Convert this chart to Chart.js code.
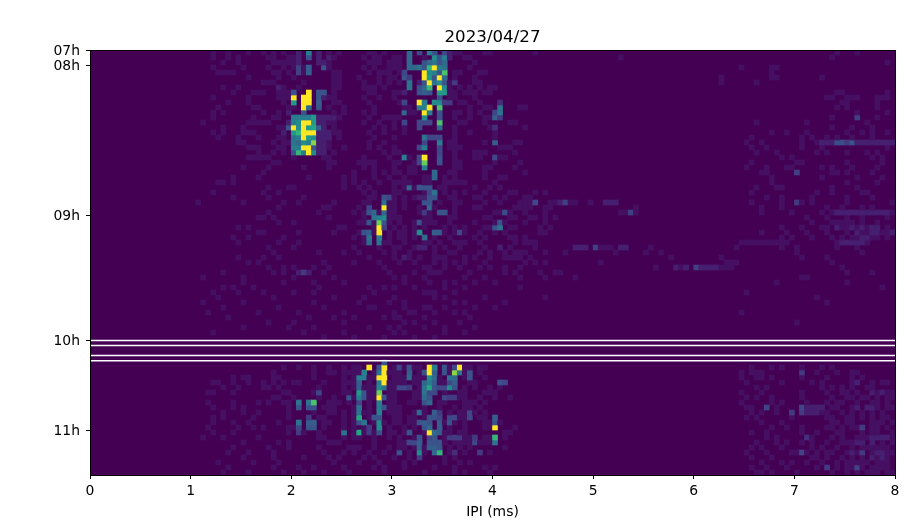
<!DOCTYPE html>
<html><head><meta charset="utf-8">
<style>html,body{margin:0;padding:0;background:#fff}canvas{display:block}</style>
<script src="https://cdn.jsdelivr.net/npm/chart.js@4"></script>
</head><body><canvas id="c" width="905" height="525"></canvas>
<script>
const chartTitle = '2023/04/27';
const xLabel = 'IPI (ms)';
const binCount = 160;
const rowCount = 85;
const xTicks = [0,1,2,3,4,5,6,7,8];
const hourRows = [0,3,33,58,76];
const hourLabels = ['07h','08h','09h','10h','11h'];
const gapRows = [58.1,59.1,61.1,62.15];

// [row, [columns]] : faint background counts
const faintRows = [
[0,[24,27,31,34,36,38,47,49,55,56,58,72,73,78,79,88,148,152]],
[1,[24,27,29,35,36,39,40,48,54,56,57,60,61,66,71,74,75,105,147]],
[2,[26,29,36,37,38,39,40,41,47,55,56,57,59,60,61,67,76,158]],
[3,[24,30,35,38,40,42,47,54,56,59,60,61,75,129,135,136]],
[4,[25,26,27,28,36,37,39,42,48,49,55,57,58,59,61,72,73,77,78,135]],
[5,[31,37,40,48,49,53,57,59,60,72,76,125,135,136,145]],
[6,[34,35,36,42,48,49,54,57,59,61,71,76,77,125,132]],
[7,[26,29,38,41,48,49,54,55,56,58,71,73,75,77,79,80]],
[8,[28,32,33,34,37,38,39,48,55,56,60,61,71,72,74,75,76,78,79,148,149,158]],
[9,[24,31,37,38,39,47,48,54,57,60,71,72,76,146,147,150,151,152,156,157,158]],
[10,[27,31,38,48,49,55,61,73,74,77,149,150,156]],
[11,[25,32,33,39,40,47,50,56,62,63,75,78,79,85,86,148,150,156]],
[12,[24,26,34,37,48,50,54,56,63,64,72,73,75,77,152,158]],
[13,[24,32,36,37,46,47,48,49,55,58,59,60,61,72,75,78,79,147,152,156]],
[14,[22,31,32,33,34,35,47,48,54,57,60,73,74,78,83,84,132,142,154]],
[15,[26,30,37,38,46,48,56,58,60,62,72,79,86,147,151,155]],
[16,[24,26,30,31,32,47,48,49,55,58,62,72,75,80,135,138,142,150,153,155,158]],
[17,[25,29,33,37,38,47,49,56,60,72,80,131,141,143,146,148,151,155]],
[18,[29,30,36,38,39,46,47,55,58,71,72,78,84,85,130,133,141,144,146,147,155,156]],
[19,[31,32,33,37,38,46,47,50,55,57,60,71,72,73,81,82,83,131,134,141,145,158]],
[20,[33,36,38,45,46,48,58,60,61,72,76,77,78,84,132,136,144,146,150,154,156]],
[21,[31,32,33,34,35,40,46,47,54,59,62,63,72,76,77,80,81,82,137,139,155,157]],
[22,[36,37,47,48,53,54,55,56,60,61,64,72,73,80,85,131,140,141,150,157]],
[23,[30,35,42,47,54,56,60,63,64,72,73,78,79,84,130,134,138,139,145,147,151,156]],
[24,[34,52,56,58,60,61,63,64,71,72,78,86,133,134,140,147,148,150,155]],
[25,[28,33,43,50,52,56,59,62,66,67,70,72,78,81,82,135,145,152,157]],
[26,[25,26,28,50,52,54,57,60,61,62,63,66,67,70,71,72,73,74,80,135,150,156]],
[27,[35,39,40,50,53,55,60,62,64,69,70,76,79,81,132,136,137,147,152]],
[28,[24,34,37,54,56,60,61,66,70,72,74,78,83,84,88,90,131,144,147,153,154]],
[29,[28,35,42,55,56,60,62,64,71,72,76,77,80,82,86,87,134,137,143,150,155]],
[30,[21,30,38,41,48,54,55,59,60,62,66,69,72,73,78,81,85,86,87,91,92,95,96,99,131,137,141,143,150,159]],
[31,[37,46,47,53,55,59,60,62,65,67,68,72,76,77,84,85,86,87,90,91,108,133,137,146,149,153,155]],
[32,[35,45,52,54,57,59,60,65,66,67,72,80,81,83,86,90,105,106,108,133,139,145,147,159]],
[33,[33,34,36,47,54,59,60,61,66,67,71,72,78,79,83,84,87,88,90,92,142,146,150,153,158]],
[34,[37,40,53,54,56,59,61,64,66,67,68,71,76,80,82,86,90,143,147,148,149,150,151,153,156]],
[35,[29,31,49,50,56,60,62,64,66,70,72,74,78,79,83,84,89,91,137,141,145,146,149,150,152,154,158]],
[36,[33,34,41,48,53,56,59,61,62,64,70,72,74,77,80,82,89,90,133,138,142,146,150,153,154,157,158]],
[37,[28,31,38,52,54,59,61,62,64,68,71,76,78,83,84,86,137,139,143,147,149,151,152,155,156,158]],
[38,[29,37,41,54,58,59,62,66,67,69,72,73,74,77,84,86,87,88,129,130,131,132,133,134,135,136,137,138,148,150,154]],
[39,[35,40,52,57,60,61,64,68,70,73,78,81,83,88,101,102,103,111,128,137,140,148,152]],
[40,[36,45,50,53,58,60,63,68,71,72,77,79,82,84,85,86,90,94,104,110,113,140,153]],
[41,[29,34,37,55,60,62,63,65,68,69,70,74,76,79,82,83,84,85,87,115,125,141,146]],
[42,[31,33,46,52,57,61,64,68,70,72,74,78,86,88,90,101,126,127,128,147]],
[43,[35,38,40,44,47,58,66,67,70,73,77,79,82,85,112,116,117,122,123,124,125,126,127,149]],
[44,[26,36,38,46,59,64,67,68,69,75,82,84,89,92,93,150,155]],
[45,[22,30,40,48,60,62,66,74,78,85,90,96,141,142]],
[46,[30,38,44,50,62,67,70,72,76,80,136,150]],
[47,[26,28,32,45,55,58,60,64,70,74,85,157]],
[48,[24,29,34,40,44,56,66,67,68,72,130]],
[49,[25,36,48,54,60,68,70,78,90,144]],
[50,[22,30,44,53,59,62,72,74,82,146]],
[51,[26,37,46,55,56,62,66,67,70,76,80]],
[52,[23,33,41,50,60,63,64,68,72,74,129]],
[53,[27,43,48,52,58,60,61,66,75]],
[54,[35,40,50,62,64,68,73,140]],
[55,[30,39,44,55,59,61,66,70,76]],
[56,[24,42,50,60,62,70,74]],
[57,[46,52,58,64,68]],
[63,[38,41,44,47,50,52,53,60,62,64,65,71,74,75,77,78,131,135,137,141,145,147]],
[64,[36,44,47,48,50,51,52,53,56,59,60,61,65,71,74,77,129,131,132,133,144,148,151,152]],
[65,[28,30,31,36,37,44,50,52,55,56,60,61,62,64,65,66,69,74,75,78,129,132,133,135,141,146,151,153]],
[66,[24,25,28,31,34,36,38,40,41,46,50,51,52,55,59,60,61,62,64,65,69,70,75,76,130,137,143,145,151,155,157,158]],
[67,[26,29,34,35,37,45,50,52,54,55,56,59,60,65,69,74,76,79,81,132,134,145,147,149,151,154,155]],
[68,[23,24,28,38,39,44,45,50,51,55,56,59,60,64,65,70,73,74,78,79,80,129,133,141,146,149,150,152,155,156,158,159]],
[69,[36,37,40,45,48,52,55,56,59,60,64,65,73,74,77,80,83,130,132,135,141,147,150,151,153,154,156,158,159]],
[70,[23,28,33,35,38,39,47,48,49,51,55,59,60,63,64,69,70,74,75,76,78,129,135,137,142,146,148,149,152,155,156,158]],
[71,[24,28,30,39,46,47,48,52,55,59,60,61,66,69,72,74,75,77,130,131,136,141,142,143,144,147,148,151,152,154,156,158,159]],
[72,[26,30,33,39,44,47,48,50,52,54,55,59,60,61,64,66,71,73,74,76,78,131,133,136,139,144,145,146,149,151,153,155,157]],
[73,[24,26,32,39,45,46,50,52,55,56,60,61,63,64,66,73,74,77,78,130,132,139,146,147,150,151,153,155,157,158]],
[74,[24,28,31,37,46,47,50,52,56,58,60,61,63,64,70,72,74,78,79,81,133,137,147,148,150,151,155,156,157,159]],
[75,[23,29,32,34,39,40,46,50,52,54,59,62,64,71,74,78,79,84,135,138,141,146,147,149,151,152,155,156,158]],
[76,[24,28,39,42,45,52,54,56,59,60,62,66,70,71,73,74,82,83,131,134,141,144,148,149,153,155,156,159]],
[77,[22,26,33,45,46,50,52,53,56,59,61,64,70,74,75,78,79,82,134,136,143,147,149,152,153,154,157,158,159]],
[78,[30,37,39,47,48,49,56,61,62,70,72,73,74,75,77,78,79,132,136,138,141,143,146,149,150,151,152,153,155,157,159]],
[79,[28,35,39,45,51,52,53,56,59,61,62,64,66,71,73,75,82,131,133,137,143,145,148,151,153,154,155,156,157,158]],
[80,[27,31,36,46,50,52,55,58,63,66,71,74,79,130,134,139,140,142,144,146,147,150,152,155,156,157,158,159]],
[81,[30,36,42,47,49,54,56,60,63,65,70,72,131,135,143,144,146,149,151,153,155,156,158]],
[82,[25,32,37,48,53,57,62,64,70,73,75,133,137,139,142,145,148,150,151,152,153,154,156,157,158]],
[83,[27,36,41,44,50,56,58,62,68,72,78,80,131,134,138,144,148,150,151,153,155,156,157,158]],
[84,[26,31,38,42,46,51,58,66,72,74,79,132,133,135,140,147,150,152,154,155,156,158,159]]
];

// [row, [columns]] : slightly stronger background counts
const softRows = [
[0,[41,45,65,71]],[1,[41,45,47,68,69,71]],[2,[41,45,46]],[3,[41,46]],[4,[41]],
[6,[65]],[7,[37]],[8,[45,46,62]],[9,[45,46]],[12,[39]],[14,[39,45,46]],[15,[45,46]],
[16,[38,45,46,47]],[17,[45,46,47]],[18,[45,46]],[19,[45,46]],[20,[45,46]],
[13,[45,46,47,48]],[29,[65,66]],[32,[66]],[34,[65]],[39,[65,66,81]],[41,[62]],
[30,[88,93,94,102,103,104]],[32,[82,107]],[39,[96,97,98,100,105,106]],
[43,[116,118,120,121,122,123,124]],[44,[41,42,43]],
[18,[145,146,147,152,153,154,155,156,157,158,159]],
[32,[148,149,150,151,152,153,154,155,156,157,158]],
[35,[148,151,153,155,156]],[36,[152,155,156,159]],[37,[153,154]],
[38,[149,150,151,152,153]],
[66,[152]],[68,[155,157]],[71,[142,143,144,145,152,154,155]],[72,[142,143,144]],
[75,[153]],[77,[155,156,157,158]],[78,[152,153,155]],[80,[151,153,156,157]],[81,[155,157]]
];

// [row, column, value] : distinct cells before 09h
const morningCells = [
[0,43,.5],[1,43,.3],[3,43,.35],[4,43,.35],[3,41,.22],[4,41,.22],[3,46,.3],[8,40,.3],[8,45,.3],[8,46,.3],[9,45,.3],[10,45,.35],[11,45,.3],
[8,43,1],[9,40,1],[9,42,1],[9,43,1],[10,40,.6],[10,42,1],[10,43,1],[11,42,1],[11,43,.4],[12,42,.3],
[13,40,.5],[13,41,.5],[13,42,.5],[13,43,.5],[13,44,.6],
[14,40,.5],[14,41,.55],[14,42,1],[14,43,1],[14,44,.6],
[15,39,.3],[15,40,1],[15,41,.55],[15,42,1],[15,43,.6],[15,44,.65],[15,45,.35],
[16,40,.6],[16,41,.7],[16,42,1],[16,43,1],[16,44,1],
[17,40,.45],[17,41,.5],[17,42,1],[17,43,.6],[17,44,.55],
[18,40,.45],[18,41,.4],[18,42,.55],[18,43,.5],[18,44,.85],
[19,40,.5],[19,41,.5],[19,42,1],[19,43,1],[19,44,.3],
[20,40,.3],[20,41,.7],[20,42,.5],[20,43,1],[20,44,.55],
[0,63,.4],[0,65,.25],[0,67,.5],[0,68,.3],[0,70,.25],
[1,63,.4],[1,68,.55],[1,69,.3],[1,70,.5],
[2,63,.4],[2,66,.3],[2,67,.4],[2,68,.45],[2,69,.3],[2,70,.4],
[3,63,.4],[3,64,.4],[3,65,.45],[3,66,.3],[3,67,.7],[3,68,1],[3,69,.5],[3,70,.45],
[4,62,.25],[4,66,1],[4,67,.55],[4,68,.5],[4,69,.3],[4,70,.75],
[5,62,.3],[5,63,.2],[5,66,1],[5,67,.6],[5,68,.3],[5,69,1],[5,70,.4],
[6,63,.45],[6,66,.3],[6,67,1],[6,68,.45],[6,69,.55],[6,70,.3],[6,72,.2],
[7,63,.45],[7,65,.3],[7,66,.4],[7,67,.7],[7,69,1],[7,70,.55],
[8,65,.3],[8,66,.35],[8,67,.3],[8,69,.6],[8,70,.6],[9,69,.3],
[10,62,.25],[10,65,1],[10,66,.5],[10,68,.55],[10,69,.55],[10,70,.2],[10,71,.2],[10,81,.15],
[11,65,.5],[11,66,.5],[11,67,1],[11,69,.75],[11,81,.45],
[12,62,.4],[12,66,1],[12,67,.5],[12,69,.3],[12,80,.25],[12,81,.45],
[13,66,.55],[13,69,.3],[13,80,.35],[13,81,.2],
[14,62,.25],[14,65,.25],[14,66,.25],[14,67,.25],[14,69,.75],
[15,65,.25],[15,69,.4],[15,80,.15],[17,66,.45],[17,67,.25],[17,68,.25],[17,69,.25],
[18,66,.25],[18,69,.5],[18,80,.35],[19,65,.25],[19,66,.5],[19,69,.25],[20,69,.25],
[21,62,.5],[21,65,.25],[21,66,1],[21,69,.3],[21,80,.25],
[22,65,.25],[22,66,.8],[22,69,.3],[23,66,.5]
];

// [row, column, value] : distinct cells around 09h
const middayCells = [
[24,68,.4],[25,68,.4],[27,63,.4],[27,65,.3],[27,66,.3],[27,67,.3],[28,67,.25],[28,68,.45],
[29,58,.3],[29,59,.25],[29,67,.3],[29,68,.3],[30,58,.45],[30,66,.3],[30,67,.3],
[31,55,.25],[31,58,1],[31,67,.4],[32,55,.3],[32,56,.4],[32,58,.4],[32,69,.3],[32,70,.3],[32,66,.2],
[33,56,.45],[33,57,.5],[33,58,.55],[34,55,.3],[34,57,.8],[34,58,.3],[34,65,.3],[34,81,.3],
[35,57,1],[35,58,.2],[35,80,.3],[35,81,.45],
[36,54,.3],[36,55,.35],[36,57,1],[36,65,.55],[36,68,.35],[36,69,.35],[36,73,.25],
[37,55,.45],[37,57,.5],[37,66,.4],[38,55,.4],[38,57,.45],
[30,88,.25],[30,94,.22],[32,82,.28],[32,107,.22],[39,100,.22],[43,120,.22],
[13,152,.22],[18,148,.28],[18,149,.28],[18,150,.2],[18,151,.3],[24,140,.22],[30,140,.2],
[44,42,.2]
];

// [row, column, value] : distinct cells after the gap
const afternoonCells = [
[62,58,.3],[63,55,1],[63,57,.3],[63,58,1],[64,54,.5],[64,57,.45],[64,58,1],
[65,53,.5],[65,54,.5],[65,57,1],[65,58,1],[66,53,.35],[66,57,.5],[66,58,1],
[67,53,.35],[67,57,.55],[67,58,.45],[68,45,.25],[68,53,.6],[68,54,.3],[68,57,.8],
[69,51,.3],[69,53,.5],[69,54,.3],[69,57,1],[69,58,.3],
[70,41,.45],[70,43,.45],[70,44,.75],[70,53,.25],[70,57,.5],
[71,41,.3],[71,43,.3],[71,44,.3],[71,53,.45],[71,57,.5],[71,58,.3],
[72,53,.45],[72,57,.5],[73,43,.2],[73,53,.65],[73,56,.3],[73,57,.3],
[74,41,.45],[74,43,.35],[74,44,.35],[74,53,.3],[74,54,.45],[74,57,.55],
[75,41,.25],[75,43,.3],[75,44,.3],[75,55,.2],[75,57,.55],
[76,41,.2],[76,50,.45],[76,53,.65],[76,55,.2],[76,57,.3],
[63,61,.25],[63,63,.3],[63,67,1],[63,68,.5],[63,70,.3],[63,72,.25],[63,73,1],
[64,63,.35],[64,66,.3],[64,67,1],[64,68,.35],[64,70,.3],[64,72,.85],[64,73,.45],[64,75,.3],
[65,63,.4],[65,67,.55],[65,68,.4],[65,71,.45],[65,72,.4],[65,75,.3],
[66,66,.4],[66,67,.5],[66,68,.35],[66,71,.25],[66,72,.35],[66,81,.3],[66,82,.25],
[67,61,.25],[67,62,.25],[67,63,.2],[67,66,.45],[67,67,.65],[67,68,.3],[67,69,.25],[67,70,.25],[67,71,.55],[67,72,.3],
[68,66,.45],[68,67,.25],[68,68,.25],[69,66,.4],[69,67,.3],[69,70,.25],[69,71,.2],[69,72,.2],
[70,66,.3],[70,67,.4],[72,65,.4],[72,68,.35],[72,69,.2],[72,75,.25],
[73,67,.3],[73,68,.3],[73,69,.25],[73,71,.25],[73,72,.25],[73,75,.25],[73,80,.35],
[74,65,.3],[74,66,.35],[74,67,.3],[74,69,.35],[74,71,.3],[74,80,.3],
[75,66,.3],[75,67,.4],[75,69,.35],[75,80,1],
[76,63,.3],[76,67,1],[76,68,.4],[76,69,.35],
[77,65,.3],[77,67,.25],[77,68,.3],[77,71,.2],[77,72,.2],[77,73,.2],[77,76,.2],[77,80,.7],
[78,63,.25],[78,64,.25],[78,65,.35],[78,67,.3],[78,68,.3],[78,69,.3],[78,76,.25],[78,80,.45],
[79,65,.35],[79,67,.35],[79,68,.35],[79,69,.3],
[80,61,.3],[80,65,.55],[80,68,.4],[80,69,.7],[80,72,.15],[80,77,.2],[81,65,.2],
[64,141,.2],[71,134,.24],[71,141,.24],[72,139,.2],[72,141,.2],[75,153,.2],[77,142,.16],[80,141,.24],[80,153,.2],[83,146,.2],[83,152,.24]
];

const faintValue = 0.05;
const softValue = 0.1;
const viridis = [[68,1,84],[72,36,117],[65,68,135],[53,95,141],[42,120,142],[33,145,140],[34,168,132],[68,191,112],[122,209,81],[189,223,38],[253,231,37]];
function viridisColor(v){
  const u = v<0.5 ? v*0.85 : 0.425+(v-0.5)*1.15;
  const t = Math.max(0,Math.min(1,u))*10, i = Math.min(9,Math.floor(t)), f = t-i;
  const a = viridis[i], b = viridis[i+1];
  return `rgb(${a.map((n,k)=>Math.round(n+(b[k]-n)*f)).join(',')})`;
}

const grid = Array.from({length:rowCount},()=>new Array(binCount).fill(0));
const setCell = (r,c,v)=>{ if(r<rowCount && c<binCount) grid[r][c]=v; };
faintRows.forEach(([r,cs])=>cs.forEach(c=>setCell(r,c,faintValue)));
softRows.forEach(([r,cs])=>cs.forEach(c=>setCell(r,c,softValue)));
[...morningCells,...middayCells,...afternoonCells].forEach(([r,c,v])=>setCell(r,c,v));

const labels = Array.from({length:binCount},(_,i)=>i);
const datasets = [];
grid.forEach((row,r)=>{
  if(!row.some(v=>v>0)) return;
  datasets.push({
    data: row.map(v=>v>0?[r,r+1]:null),
    backgroundColor: row.map(v=>v>0?viridisColor(v):'rgba(0,0,0,0)'),
    xAxisID:'x', yAxisID:'y', borderWidth:0
  });
});
gapRows.forEach(r=>{
  datasets.push({
    type:'line', order:-1,
    data:[{x:0,y:r},{x:8,y:r}],
    borderColor:'#ffffff', borderWidth:1.7, pointRadius:0, xAxisID:'xv', yAxisID:'y'
  });
});

const plotFrame = {
  id:'plotFrame',
  beforeDatasetsDraw(ch){
    const a = ch.chartArea, g = ch.ctx;
    g.save(); g.fillStyle = viridisColor(0); g.fillRect(a.left,a.top,a.width,a.height); g.restore();
  },
  afterDatasetsDraw(ch){
    const a = ch.chartArea, g = ch.ctx;
    g.save(); g.strokeStyle='#000'; g.lineWidth=1;
    g.strokeRect(Math.round(a.left)+0.5,Math.round(a.top)+0.5,Math.round(a.width),Math.round(a.height));
    g.restore();
  }
};

const font = {family:'"DejaVu Sans"', size:13.9};
new Chart(document.getElementById('c'),{
  type:'bar',
  data:{labels,datasets},
  plugins:[plotFrame],
  options:{
    responsive:false, animation:false, events:[],
    layout:{padding:{left:0,right:10,top:0,bottom:0}},
    datasets:{bar:{grouped:false,barPercentage:1,categoryPercentage:1}},
    plugins:{
      legend:{display:false}, tooltip:{enabled:false},
      title:{display:true,text:chartTitle,fullSize:false,color:'#000',
        font:{family:'"DejaVu Sans"',size:16.67,weight:'normal'},padding:{top:28,bottom:2}}
    },
    scales:{
      x:{type:'category',display:false,offset:true,grid:{display:false}},
      xv:{type:'linear',position:'bottom',min:0,max:8,offset:false,
        afterBuildTicks(s){s.ticks=xTicks.map(value=>({value}));},
        afterFit(s){s.height=50;},
        grid:{display:true,offset:false,drawOnChartArea:false,drawTicks:true,tickLength:4,color:'#000',tickColor:'#000',tickWidth:1},
        border:{display:false},
        ticks:{color:'#000',font,padding:4,maxRotation:0,autoSkip:false,callback:v=>String(v)},
        title:{display:true,text:xLabel,color:'#000',font,padding:{top:0,bottom:4}}
      },
      y:{type:'linear',reverse:true,min:0,max:rowCount,
        afterBuildTicks(s){s.ticks=hourRows.map(value=>({value}));},
        afterFit(s){s.width=90;},
        grid:{display:true,drawOnChartArea:false,drawTicks:true,tickLength:4,color:'#000',tickColor:'#000',tickWidth:1},
        border:{display:false},
        ticks:{color:'#000',font,padding:6,labelOffset:1.5,autoSkip:false,
          callback:v=>{const i=hourRows.indexOf(v);return i<0?'':hourLabels[i];}}
      }
    }
  }
});
</script></body></html>
